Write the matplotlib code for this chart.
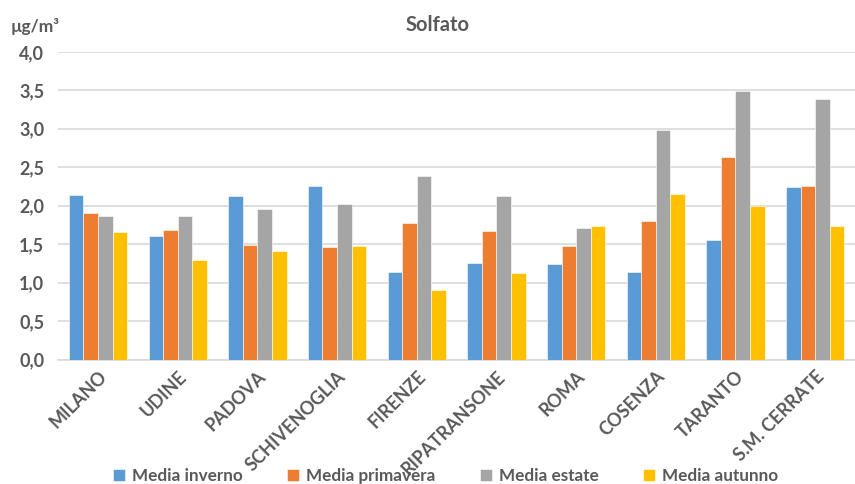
import matplotlib.pyplot as plt
import numpy as np

stations = ["MILANO", "UDINE", "PADOVA", "SCHIVENOGLIA", "FIRENZE",
            "RIPATRANSONE", "ROMA", "COSENZA", "TARANTO", "S.M. CERRATE"]
series_names = ["Media inverno", "Media primavera", "Media estate", "Media autunno"]
inverno = [2.14, 1.61, 2.13, 2.26, 1.14, 1.25, 1.24, 1.14, 1.56, 2.24]
primavera = [1.90, 1.68, 1.49, 1.46, 1.77, 1.67, 1.48, 1.80, 2.63, 2.26]
estate = [1.86, 1.86, 1.96, 2.02, 2.38, 2.12, 1.71, 2.99, 3.49, 3.39]
autunno = [1.66, 1.29, 1.41, 1.48, 0.91, 1.13, 1.73, 2.15, 1.99, 1.73]
yticks = [0.0, 0.5, 1.0, 1.5, 2.0, 2.5, 3.0, 3.5, 4.0]

colors = ["#5B9BD5", "#ED7D31", "#A5A5A5", "#FFC000"]
text_color = "#595959"
font = "Lato"

fig = plt.figure(figsize=(8.55, 4.84), dpi=100)
ax = fig.add_axes([0.068, 0.257, 0.932, 0.636])

x = np.arange(len(stations))
width = 0.183
for i, (vals, name) in enumerate(zip([inverno, primavera, estate, autunno], series_names)):
    ax.bar(x + (i - 1.5) * width, vals, width, color=colors[i], label=name,
           edgecolor="white", linewidth=0.4, zorder=3)

ax.set_xlim(-0.5, len(stations) - 0.5)
ax.set_ylim(0, 4.0)
ax.set_yticks(yticks)
ax.set_yticklabels([f"{v:.1f}".replace(".", ",") for v in yticks],
                   fontsize=13, fontweight="bold", color=text_color, family=font)
ax.yaxis.grid(True, color="#D9D9D9", linewidth=1.2, zorder=0)
ax.tick_params(axis="y", length=0, pad=10)
ax.tick_params(axis="x", length=0, pad=6)
ax.set_xticks(x)
ax.set_xticklabels(stations, rotation=45, ha="right", rotation_mode="anchor",
                   fontsize=13, fontweight="bold", color=text_color, family=font)
for s in ["top", "right", "left"]:
    ax.spines[s].set_visible(False)
ax.spines["bottom"].set_color("#D9D9D9")
ax.spines["bottom"].set_linewidth(1.2)

fig.text(0.512, 0.948, "Solfato", ha="center", va="center", fontsize=14.5,
         fontweight="bold", color=text_color, family=font)
fig.text(0.012, 0.945, "µg/m³", ha="left", va="center", fontsize=12.5,
         fontweight="bold", color=text_color, family=font)

fig.legend(loc="center", bbox_to_anchor=(0.521, 0.017), ncol=4, frameon=False,
           prop={"family": font, "weight": "bold", "size": 12.3},
           labelcolor=text_color, handlelength=0.7, handleheight=0.7,
           handletextpad=0.4, columnspacing=2.6)

fig.savefig("out.png", dpi=100)
